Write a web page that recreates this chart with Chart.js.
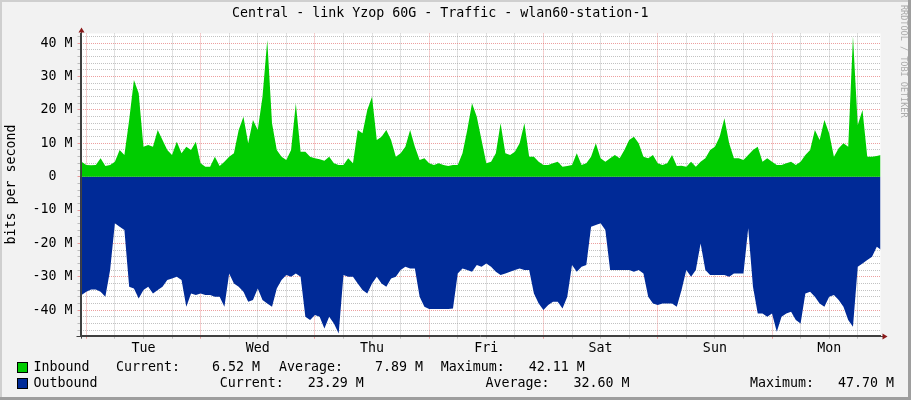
<!DOCTYPE html>
<html>
<head>
<meta charset="utf-8">
<script src="https://cdn.jsdelivr.net/npm/chart.js@4.4.1/dist/chart.umd.min.js"></script>
<style>
html, body { margin: 0; padding: 0; background: #f2f2f2; }
canvas { display: block; }
</style>
</head>
<body>
<canvas id="graph" width="911" height="400"></canvas>
<script>
const chartTitle = 'Central - link Yzop 60G - Traffic - wlan60-station-1'
const dayNames = ['Tue', 'Wed', 'Thu', 'Fri', 'Sat', 'Sun', 'Mon']
const gridHours = [0, 6, 12, 18, 24, 30, 36, 42, 48, 54, 60, 66, 72, 78, 84, 90, 96, 102,
    108, 114, 120, 126, 132, 138, 144, 150, 156, 162]
const yTicks = [-46, -44, -42, -40, -38, -36, -34, -32, -30, -28, -26, -24, -22, -20, -18, -16, -14, -12,
    -10, -8, -6, -4, -2, 0, 2, 4, 6, 8, 10, 12, 14, 16, 18, 20, 22, 24, 26, 28, 30, 32, 34, 36, 38, 40, 42]

// one value per hour in Mbit/s, first value is hour -2 (hour 0 = Tue 00:00)
const startHour = -2
const inbound = [
    6, 4.5, 3.5, 3.4, 3.5, 5.5, 3.2, 3.5, 4.5, 8, 6.5, 17, 29, 25, 9, 9.5, 9, 14, 11, 8, 6.5, 10.5, 7, 9, 8, 10.5,
    4, 3, 3, 6, 3.2, 4.5, 6, 7, 14, 18, 10, 17, 14, 24, 41, 16, 8, 6,
    5, 8, 22, 7.5, 7.5, 6, 5.5, 5.2, 4.8, 6, 4, 3.5, 3.5, 5.5, 4, 14, 13, 20, 24, 11, 12, 14, 11, 6, 7, 9,
    14, 9, 5, 5.5, 4, 3.5, 4, 3.5, 3.2, 3.5, 3.5, 7, 14, 22, 18, 11,
    4, 4.5, 7, 16, 7, 6.5, 7.5, 10, 16, 6, 6, 4.5, 3.5, 3.5, 4, 4.5, 3, 3.2, 3.5, 7, 3.5, 4, 6, 10,
    5.5, 4.5, 5.5, 6.5, 5.5, 8, 11, 12, 10, 6, 5.5, 6.5, 4, 3.5, 4, 6.5, 3.2, 3.3,
    3, 4.5, 3, 4.5, 5.5, 8, 9, 12, 17.5, 10, 5.5, 5.5, 5, 6.5, 8, 9, 4.5, 5.5, 4.5, 3.5, 3.5, 4, 4.5, 3.5,
    4.5, 6.5, 8, 14, 11, 17, 13, 6, 8.5, 10, 9, 42, 15.5, 20, 6, 6, 6.2, 6.5
]
const outbound = [
    -36, -35.5, -34.5, -33.8, -33.8, -34.5, -36, -28, -14, -15, -16, -33, -33.5, -36.5, -34, -33, -35, -34,
    -33, -31, -30.5, -30, -31, -39, -35, -35.5,
    -35, -35.5, -35.5, -36, -36, -39, -29, -32, -33, -34.5, -37.5, -37, -33.5, -37, -38, -39, -33.5, -31,
    -29.5, -30, -29, -30, -42, -43, -41.5, -42, -45.5, -42, -44, -47, -29.5, -30, -30, -32, -34, -35, -32,
    -30, -32, -33, -30.5, -30, -28, -27, -27.5, -27.5,
    -36, -39, -39.7, -39.7, -39.7, -39.7, -39.7, -39.5, -29, -27.5, -28, -28.5, -26.5, -27,
    -26, -27, -28.5, -29.5, -29, -28.5, -28, -27.5, -28, -28, -35, -38, -40, -38.5, -37.5, -37.5, -39.5,
    -36, -26.5, -28.5, -27, -26.5, -15, -14.5, -14, -16, -28, -28, -28, -28, -28, -28.5, -28, -29,
    -36, -38, -38.5, -38, -38, -38, -39, -34,
    -28, -30, -28, -20, -28, -29.5, -29.5, -29.5, -29.5, -30, -29, -29, -29, -15.5, -33, -41, -41, -42,
    -41, -46.5, -42, -41, -40.5, -43, -44, -35, -34.5, -36, -38, -39, -36, -35.5, -37, -39, -43, -45,
    -27, -26, -25, -24, -21, -22
]

const legendRows = [
    { name: 'Inbound', color: '#00cc00', cur: '6.52 M', avg: '7.89 M', max: '42.11 M' },
    { name: 'Outbound', color: '#002a97', cur: '23.29 M', avg: '32.60 M', max: '47.70 M' }
]

const FONT = "'DejaVu Sans Mono', monospace"
Chart.defaults.font.family = FONT
Chart.defaults.font.size = 13.3
Chart.defaults.color = '#000'

function toPoints(arr) {
    return arr.map((v, i) => ({ x: startHour + i, y: v }))
}

function gridColor(major) {
    return major ? 'rgba(222, 80, 80, 0.55)' : 'rgba(143, 143, 143, 0.55)'
}

const rrdLook = {
    id: 'rrdLook',
    beforeDraw(chart) {
        const c = chart.ctx, a = chart.chartArea
        c.save()
        c.fillStyle = '#f2f2f2'
        c.fillRect(0, 0, 911, 400)
        c.fillStyle = '#cfcfcf'
        c.fillRect(0, 0, 911, 2)
        c.fillRect(0, 0, 2, 400)
        c.fillStyle = '#9e9e9e'
        c.fillRect(0, 397, 911, 3)
        c.fillRect(908, 0, 3, 400)
        c.fillStyle = '#fff'
        c.fillRect(a.left, a.top, a.right - a.left, a.bottom - a.top)
        c.restore()
    },
    afterDraw(chart) {
        const c = chart.ctx, a = chart.chartArea
        c.save()
        // axis extensions + arrows
        c.strokeStyle = '#404040'
        c.lineWidth = 1
        c.beginPath()
        c.moveTo(Math.round(a.left) + 0.5, a.top - 2)
        c.lineTo(Math.round(a.left) + 0.5, a.bottom + 3)
        c.moveTo(a.left - 4, Math.round(a.bottom) + 0.5)
        c.lineTo(a.right + 4, Math.round(a.bottom) + 0.5)
        c.stroke()
        c.fillStyle = '#8b1a1a'
        const ax = Math.round(a.left) + 0.5
        c.beginPath()
        c.moveTo(ax - 3, a.top - 1)
        c.lineTo(ax + 3, a.top - 1)
        c.lineTo(ax, a.top - 6)
        c.closePath()
        c.fill()
        const ay = Math.round(a.bottom) + 0.5
        c.beginPath()
        c.moveTo(a.right + 2, ay - 3)
        c.lineTo(a.right + 2, ay + 3)
        c.lineTo(a.right + 7, ay)
        c.closePath()
        c.fill()

        // legend
        c.font = '13.3px ' + FONT
        c.textBaseline = 'middle'
        c.fillStyle = '#000'
        const rowY = [368, 384]
        const cols = [
            [116, 279, 440.7],
            [219.8, 485.5, 750]
        ]
        legendRows.forEach((r, i) => {
            const y = rowY[i]
            c.fillStyle = r.color
            c.fillRect(17.5, y - 5.5, 10, 10)
            c.strokeStyle = '#000'
            c.strokeRect(17.5, y - 5.5, 10, 10)
            c.fillStyle = '#000'
            c.textAlign = 'left'
            c.fillText(r.name, 33.5, y)
            c.fillText('Current:', cols[i][0], y)
            c.fillText('Average:', cols[i][1], y)
            c.fillText('Maximum:', cols[i][2], y)
            c.textAlign = 'right'
            c.fillText(r.cur, cols[i][0] + 144, y)
            c.fillText(r.avg, cols[i][1] + 144, y)
            c.fillText(r.max, cols[i][2] + 144, y)
        })

        // watermark
        c.translate(903, 5)
        c.rotate(Math.PI / 2)
        c.font = '8.5px ' + FONT
        c.fillStyle = '#aaaaaa'
        c.textAlign = 'left'
        c.textBaseline = 'middle'
        c.fillText('RRDTOOL / TOBI OETIKER', 0, 0)
        c.restore()
    }
}

new Chart(document.getElementById('graph'), {
    type: 'line',
    data: {
        datasets: [
            {
                label: 'Inbound',
                data: toPoints(inbound),
                borderWidth: 0,
                pointRadius: 0,
                backgroundColor: '#00cc00',
                fill: 'origin',
                tension: 0
            },
            {
                label: 'Outbound',
                data: toPoints(outbound),
                borderWidth: 0,
                pointRadius: 0,
                backgroundColor: '#002a97',
                fill: 'origin',
                tension: 0
            }
        ]
    },
    options: {
        responsive: false,
        animation: false,
        devicePixelRatio: 1,
        layout: { padding: { left: 0, right: 30.5, top: 0, bottom: 42.3 } },
        plugins: {
            legend: { display: false },
            tooltip: { enabled: false },
            title: {
                display: true,
                text: chartTitle,
                font: { size: 13.3, weight: 'normal' },
                color: '#000',
                padding: { top: 6, bottom: 11.5 }
            }
        },
        scales: {
            x: {
                type: 'linear',
                min: -1.22,
                max: 166.78,
                z: 1,
                afterBuildTicks: s => { s.ticks = gridHours.map(v => ({ value: v })) },
                afterFit: s => { s.height = 22 },
                grid: {
                    color: ctx => gridColor(ctx.tick && ctx.tick.value % 24 === 0),
                    tickColor: ctx => gridColor(ctx.tick && ctx.tick.value % 24 === 0),
                    tickLength: 3
                },
                border: { display: true, color: '#404040', dash: [1, 1] },
                ticks: {
                    autoSkip: false,
                    maxRotation: 0,
                    padding: 2,
                    callback: v => v % 24 === 12 ? dayNames[(v - 12) / 24] : ''
                }
            },
            y: {
                min: -47.68,
                max: 42.94,
                z: 1,
                afterBuildTicks: s => { s.ticks = yTicks.map(v => ({ value: v })) },
                afterFit: s => { s.width = 80.5 },
                grid: {
                    color: ctx => gridColor(ctx.tick && ctx.tick.value % 10 === 0),
                    tickColor: ctx => gridColor(ctx.tick && ctx.tick.value % 10 === 0),
                    tickLength: 3
                },
                border: { display: true, color: '#404040', dash: [1, 1] },
                title: {
                    display: true,
                    text: 'bits per second',
                    font: { size: 13.3 },
                    padding: { top: 4, bottom: 0 }
                },
                ticks: {
                    padding: 5,
                    autoSkip: false,
                    callback: v => v % 10 !== 0 ? '' : (v === 0 ? '0  ' : v + ' M')
                }
            }
        }
    },
    plugins: [rrdLook]
})
</script>
</body>
</html>
